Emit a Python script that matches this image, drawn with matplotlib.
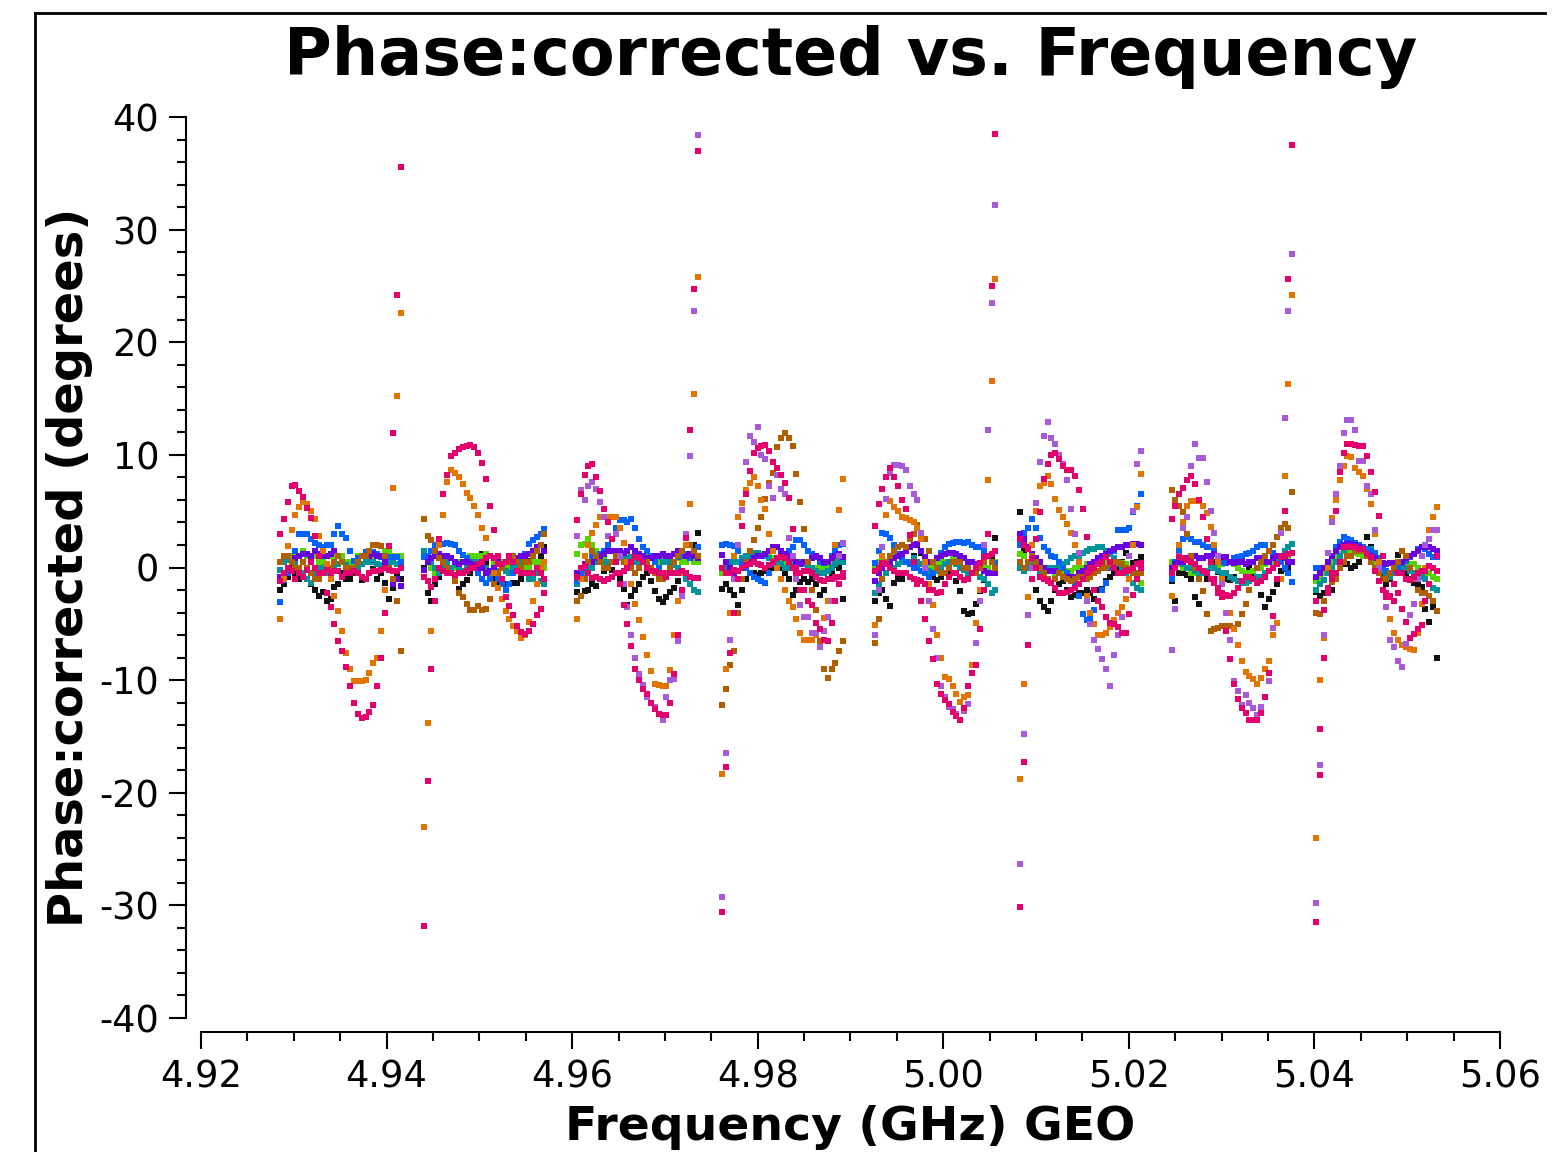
import numpy as np
import matplotlib
matplotlib.use('Agg')
import matplotlib.pyplot as plt
from matplotlib.lines import Line2D

plt.rcParams['axes.unicode_minus'] = False

# spectral windows: first channel frequency (GHz), 32 channels each
spw_start = [4.9285, 4.9440, 4.9605, 4.9762, 4.9926, 5.0083, 5.0246, 5.0402]
chan_width = 0.00042
n_chan = 32

# phase (deg) per window, one list per spw; [] = not plotted in that spw
black = [
    [-2, -1.5, -0.8, 0, -0.5, -1, -0.5, -1, -1.5, -2, -2.5, -2.2, -3.0, -2.8, -1.7, -1.5, -0.5, -1, -1, -0.5, 0, -1.1, 0.5, 0.5, -0.1, -1, -0.5, -1.4, -2.8, -1.8, -0.5, -1],
    [0, -2.3, -3.0, -1.5, -0.8, 0.2, 0.7, 0.0, -1.0, -1.9, -1.5, -1.1, -0.5, 0.2, 0.8, 1.2, 0.5, -0.3, -1.0, -1.4, -1.2, -1.5, -1.5, -1.4, -1.4, -1.0, 0.0, 0.6, 0.5, 0.2, 1.0, 1.8],
    [-2.2, -2.5, -2.1, -2.0, -1.5, -1.6, -1.0, -0.3, 0, -0.2, -0.5, -1.0, -1.9, -3.3, -2.5, -2.0, -1.5, -0.8, -0.5, -1.2, -2.1, -2.8, -3.1, -2.6, -2.2, -1.8, -1.2, -0.4, 0.5, 1.0, 2.0, 3.1],
    [-1.9, -1.5, -2.0, -2.4, -3.3, -2.0, -1.0, -0.5, -0.5, -0.7, -0.5, -0.3, -0.2, 0, 0.3, 0, -0.5, -1.0, -2.4, -2.0, -1.3, -1.0, -1.3, -1.0, -1.5, -2.4, -2.0, -1.0, -0.5, 0.2, 0, -2.8],
    [-3.0, -2.3, -2.0, -2.8, -3.4, -1.4, -1.0, -1.0, -0.5, 0.5, 1.0, 2.0, 1.3, 0.4, -0.3, -0.8, -1.1, -0.8, -0.5, -0.3, -0.5, -1.2, -2.1, -3.9, -4.1, -4.0, -3.2, -2.1, -1.1, -0.5, 1.0, 2.6],
    [4.9, 1.5, 0.3, -1.0, -2.0, -3.0, -3.5, -3.9, -3.0, -2.0, -1.5, -1.2, -2.0, -2.6, -2.4, -2.3, -2.3, -2.0, -2.3, -2.8, -2.0, -1.9, -1.2, -0.8, -0.5, 0, 0.5, 1.3, 1.0, 0.4, 0.5, 0.9],
    [-1.2, -3.0, -0.5, -0.5, -0.7, -1.0, -2.6, -3.2, -2.1, -1.0, 0, 0.5, -0.4, -0.8, -1.0, -1.1, -0.8, 0, 0.5, 0.3, 0, -0.5, -1.0, -2.4, -3.5, -2.8, -2.2, -1.5, -0.3, -0.1, 0, 0.5],
    [-2.2, -2.5, -2.3, -2.0, -2.0, -1.0, 0, 0.3, 0.3, 0, 0.1, 0.5, 1.5, 2.7, 1.8, 0.4, -0.5, -0.8, -1.5, -1.0, 0, 1.1, 0.5, -0.5, -1.0, -1.4, -1.5, -1.7, -3.7, -4.8, -3.5, -8.0],
]
blue = [
    [-3.1, -1.1, -0.5, 0.5, 1.5, 3.0, 3.0, 3.0, 2.5, 2.2, 2.0, 1.8, 2.0, 2.0, 3.0, 3.7, 3.0, 2.6, 1.5, 0.6, 0.8, 1.0, 1.4, 1.4, 1.4, 1.2, 0.9, 0.9, 0.9, 0.9, 0.9, 0.5],
    [0.9, 1.0, 1.5, 2.0, 2.0, 2.1, 2.2, 2.1, 2.0, 1.5, 1.1, 0.8, 0.5, 0.0, -0.5, -1.0, -1.4, -1.0, -0.5, -1.0, -1.5, -2.0, -1.5, -0.5, 0.5, 1.0, 1.2, 2.1, 2.4, 2.7, 3.0, 3.4],
    [-1.2, -0.5, 0, 0.5, 0.9, 1.0, 1.2, 1.5, 2.0, 2.5, 3.5, 4.2, 4.2, 4.0, 4.3, 3.5, 2.5, 1.8, 1.5, 1.0, 0.5, 0, -0.5, -0.8, -0.3, 0.5, 0.9, 1.0, 1.2, 0.8, 1.5, 1.8],
    [2.0, 2.1, 2.0, 1.9, 1.5, 0.5, 0, -0.5, -0.8, -1.0, -1.2, -1.4, -0.5, 0.3, 0.8, 1.0, 1.2, 1.5, 1.8, 2.4, 2.4, 2.0, 1.5, 1.2, 0.9, 0.5, 0.4, 0.5, 1.0, 1.5, 2.0, 2.1],
    [0.4, 1.5, 3.1, 3.0, 2.6, 2.0, 1.2, 0.9, 0.5, 0.3, 0, 0, -0.3, -0.5, -0.8, -0.5, 0, 1.3, 1.8, 2.1, 2.2, 2.3, 2.3, 2.2, 2.3, 2.0, 1.8, 1.8, 1.5, 1.0, 0.5, 0.4],
    [2.0, 3.1, 3.5, 4.3, 3.5, 2.6, 1.8, 1.5, 1.0, 0.9, 0.5, 0, -0.5, -1.0, -1.5, -2.5, -4.1, -4.7, -4.5, -3.8, -3.0, -2.0, -1.4, 0.0, 1.5, 3.3, 3.3, 3.3, 3.5, 4.9, 5.5, 6.5],
    [-1.0, 0.5, 1.5, 2.5, 2.7, 2.5, 2.3, 2.3, 2.0, 1.8, 1.8, 1.5, 1.0, 0.5, 0.4, 0.5, 0.8, 0.9, 1.0, 1.2, 1.3, 1.5, 1.8, 2.0, 2.0, 1.5, 1.3, 1.0, 0.5, 0, -0.5, -1.3],
    [0, 0, 0, 0.3, 1.0, 1.8, 2.3, 2.7, 2.5, 2.4, 2.2, 2.0, 1.8, 1.6, 1.5, 1.3, 0.8, 0, -0.3, -0.5, -0.3, 0, 0.4, 0.6, 0.9, 1.2, 1.6, 1.8, 1.6, 1.2, 0.9, 0.9],
]
teal = [
    [-0.2, 0.5, 0.7, 0.5, 0.3, 0, -0.5, -1.0, -1.4, -0.5, 0, 0, -0.5, -0.3, 0, 0.3, 0.5, 0.2, 0, -0.3, 0, 0.3, 0.5, 0.5, 0.5, 0.3, 0.2, 0.5, 0.5, 0.5, 0.3, 0.2],
    [1.5, 1.0, 0.5, 0, -0.5, 0, 0.5, 0, 0.2, 0, -0.3, 0, 0.5, 0.5, 0.5, 0.2, 0, -0.5, -0.5, -0.3, 0, -0.3, -0.5, 0, 0, 0.5, -0.5, -1.0, -1.0, -0.5, -1.2, -1.5],
    [-1.5, -1.0, -0.5, 0, 0, 0.5, 0.8, 0.5, 0.5, 0.5, 1.0, 0.9, 0.8, 0.8, 0.9, 0.5, 0.5, 0.5, 0.5, 0.8, 0.9, 0.9, 0.5, 0.5, 0.5, 0.2, 0, -0.5, -1.0, -1.5, -2.0, -2.2],
    [0, 0, 0.5, 0.5, 0.5, 0.8, 1.0, 1.0, 1.3, 1.3, 1.0, 1.0, 0.8, 0.5, 0.3, 0.3, 0, 0, 0.3, 0.5, 0.5, 0.3, 0, 0, -0.3, -0.5, -0.5, -0.3, 0, 0.3, 0.5, 0.5],
    [-2.3, -1.5, -1.0, -0.5, 0, 0, 0.3, 0.5, 0.5, 0.5, 0.8, 0.5, 0.3, 0, -0.3, -0.5, -0.3, 0, 0.3, 0.5, 0.5, 0.3, 0, -0.2, -0.5, -0.5, -0.5, -0.8, -1.0, -1.5, -2.3, -2.0],
    [0, -0.3, 0, 0.3, 0, -0.5, -0.3, 0, 0, 0, 0, 0.3, 0.5, 0.8, 1.0, 1.0, 1.3, 1.5, 1.6, 1.6, 1.8, 1.8, 1.5, 1.2, 0.8, 0.3, 0, -0.5, -1.0, -1.4, -1.8, -2.0],
    [0, 0.3, 0.5, 0.3, 0, 0, -0.3, -0.5, -0.5, -0.3, 0, 0, -0.3, -0.5, -0.5, -0.8, -1.0, -1.2, -1.4, -1.4, -1.2, -1.0, -0.8, -0.8, -0.5, -0.3, 0, 0.5, 1.0, 1.5, 1.8, 2.1],
    [-2.0, -1.5, -1.1, -0.5, 0, 0.5, 1.0, 1.5, 1.8, 1.8, 1.6, 1.5, 1.5, 1.6, 1.6, 1.0, 0.3, -0.3, -0.8, -0.8, -0.5, 0, 0, 0, -0.3, -0.5, -0.5, -0.8, -1.0, -1.5, -1.8, -2.0],
]
green = [
    [0.5, 1, 1, 1, 1, 1, 1.5, 1, 1, 1, 0.5, 0.5, 1, 1, 1, 1, 1, 0.5, 0.5, 0.5, 1, 1, 1, 1, 1, 1, 1, 1.5, 1.5, 1, 1, 1],
    [1.2, 0.5, 0, -0.5, 0, 0.5, 0.5, 0, 0, 0.5, 0.5, 0.5, 1.0, 1.0, 1.0, 1.0, 1.2, 1.0, 0.5, 0.5, 0.5, 0, 0, 0.5, 0.5, 0.5, 0, 0, 0.5, 0.5, 0.5, 0],
    [1.2, 2.0, 2.1, 2.5, 2.0, 1.5, 1.0, 1.0, 0.5, 0.5, 0.5, 0.8, 0.5, 0.5, 0.5, 0.5, 1.0, 1.0, 1.0, 0.8, 0.5, 0.5, 0.8, 0.5, 0.5, 0.5, 0.8, 0.5, 0.5, 0.8, 0.5, 0.5],
    [-0.5, 0, 0, 0.5, 0.5, 0.5, 1.0, 1.0, 1.0, 1.1, 1.2, 1.1, 1.0, 0.8, 0.5, 0.5, 0.5, 0.5, 0.5, 0.5, 0.5, 0.3, 0.3, 0, 0, 0, 0, 0, 0.5, 0.5, 0.5, 0.5],
    [0, 0.5, 0.5, 0.5, 1.0, 1.0, 1.0, 0.5, 0.5, 0.5, 0.5, 0.5, 0.3, 0.3, 0, 0, 0.3, 0.5, 0.5, 0.5, 0.8, 1.0, 1.0, 0.8, 0.5, 0.5, 0.3, 0.3, 0, 0, 0.5, 0.5],
    [1.2, 1.0, 0.5, 0.5, 0, 0, 0, 0, -0.3, -0.5, -0.5, -0.5, -0.3, -0.3, 0, 0, 0, 0.3, 0.3, 0.3, 0.5, 0.5, 0.5, 0.5, 0.5, 0.4, 0.4, 0.3, 0, -0.5, -1.0, -1.4],
    [0.5, 0.5, 0.3, 0, 0, -0.5, -0.5, -0.8, -0.5, -0.3, 0, 0, 0, 0.3, 0.5, 0.5, 0.3, 0, -0.3, -0.5, -0.5, -0.3, 0, 0, 0.3, 0.5, 0.5, 0.5, 0.8, 1.0, 1.0, 0.5],
    [-1.2, -1.0, -0.5, 0, 0.5, 1.0, 1.2, 1.5, 1.5, 1.5, 1.3, 1.2, 1.0, 1.0, 0.8, 0.5, 0, -0.3, -0.5, -0.5, -0.3, 0, 0.2, 0.3, 0.3, 0.3, 0, -0.3, -0.5, -0.5, -0.8, -1.0],
]
violet = [
    [-0.8, -0.5, 0, 0.5, 0.8, 1.0, 1.2, 1.2, 1.0, 1.5, 1.2, 1.0, 1.0, 1.2, 1.5, 1.0, 0.5, 0, -0.5, 0, 0.5, 1.0, 1.0, 1.0, 1.2, 1.0, 1.0, 0.5, 0, -1.5, -1.0, -1.6],
    [-0.2, 0.5, 0.8, 1.0, 1.2, 1.0, 1.0, 0.8, 0.5, 0.3, 0.5, 0.5, 0.3, 0.2, 0, 0, -0.5, -0.3, 0, 0.5, 0.3, 0.5, 0.5, 0.5, 0.8, 1.0, 1.0, 1.2, 1.5, 1.8, 2.0, 1.5],
    [-0.5, 0, 0.3, 0.5, 0.5, 0.8, 1.0, 1.2, 1.5, 1.5, 1.5, 1.5, 1.3, 1.5, 1.8, 1.5, 1.2, 1.0, 0.8, 0.8, 1.0, 1.0, 1.2, 1.0, 1.0, 1.2, 1.5, 1.5, 1.0, 1.2, 1.0, 0.8],
    [1.1, 0.5, 0, -0.5, -0.3, 0, 0.3, 0.5, 0.8, 1.0, 1.0, 1.2, 1.5, 1.8, 1.8, 1.5, 1.2, 1.0, 0.8, 0.5, 0.3, 0.5, 0.5, 0.8, 1.0, 0.8, 0.5, 0.5, 0.8, 1.0, 1.2, 0.9],
    [-1.2, -0.5, 0, 0.3, 0.5, 0.8, 1.0, 1.2, 1.5, 1.8, 2.0, 2.1, 1.5, 0.9, 0.5, 0.5, 0.8, 1.0, 1.2, 1.3, 1.3, 1.2, 1.0, 0.8, 0.5, 0.5, 0.3, 0, -0.3, -0.5, -0.5, -0.5],
    [3.0, 2.5, 1.8, 1.2, 0.8, 0.5, 0, -0.3, -0.3, -0.3, -0.5, -0.8, -0.8, -0.8, -0.8, -0.5, -0.3, 0, 0.3, 0.5, 0.8, 1.0, 1.2, 1.5, 1.6, 1.8, 1.8, 2.0, 2.0, 2.1, 2.1, 2.0],
    [0, 0.3, 0.5, 0.5, 0.8, 1.0, 1.0, 0.8, 0.8, 1.0, 1.0, 1.2, 1.0, 0.9, 0.9, 0.5, 0.4, 0.5, 0.5, 0.3, 0.5, 0.5, 0.8, 0.8, 0.5, 0.5, 0.8, 1.0, 1.0, 0.8, 0.5, 0.5],
    [-0.8, -0.5, 0, 0.5, 1.0, 1.5, 1.8, 2.0, 2.1, 2.1, 2.0, 1.8, 1.5, 1.2, 1.0, 0.8, 0.5, 0.4, 0.3, 0.4, 0.4, 0.5, 0.5, 0.8, 1.0, 1.2, 1.5, 1.8, 1.8, 1.8, 1.6, 1.5],
]
pink_band = [
    [-1.2, -0.5, 0, -0.3, -1, -0.5, -0.8, -0.2, 0.5, 0, -0.5, -0.5, -0.2, -0.5, -0.3, -0.3, -0.8, -0.5, -0.5, -0.3, -0.5, -0.8, -1.0, -0.5, -0.3, -0.3, -0.2, 0, -0.2, -0.3, -0.3, 0],
    [-0.8, -1.2, -1.7, -1.0, 0, -0.3, -0.5, -0.5, -0.7, -0.5, -0.5, -0.3, 0, 0, 0.3, 0.5, 0.8, 1.0, 0.8, 0.3, 0.3, 0.5, 1.0, 0.5, -0.3, -0.5, -0.5, -0.5, -0.5, 0, -0.5, -1.0],
    [-0.8, 0, 0.1, -0.5, -0.9, -0.8, -1.0, -1.2, -1.0, -0.8, -0.5, -0.5, -0.3, 0, 0.5, 0.9, 0.8, 0.5, 0, -0.3, -0.3, -0.5, -0.5, -0.8, -0.5, -0.5, -0.5, -0.3, -0.5, -0.8, -0.9, -0.9],
    [0, -0.5, -0.5, -0.2, -0.3, 0, 0.2, 0.3, 0.5, 0.3, 0.2, 0, 0.2, 0.5, 0.8, 0.9, 0.8, 0.5, 0, -0.5, -0.5, -0.3, -0.3, -0.5, -0.8, -1.1, -1.2, -1.0, -1.0, -0.8, -0.8, -0.8],
    [-0.3, 0, 0.4, 0.3, 0, -0.3, -0.5, -0.5, -0.5, -0.8, -1.0, -1.1, -1.2, -1.5, -2.0, -2.0, -2.3, -2.2, -1.5, -0.8, -0.5, -0.5, -0.8, -1.1, -1.0, -0.5, 0, 0.4, 0.9, 1.0, 1.2, 1.5],
    [2.5, 2.0, 1.6, 0.8, 0, -0.8, -1.0, -1.2, -1.4, -1.8, -2.3, -2.3, -2.2, -2.0, -1.8, -1.5, -1.0, -0.5, -0.3, 0, 0.3, 0.5, 0.9, 0.5, 0, -0.5, -0.5, -0.3, -0.2, 0, 0.3, 0.4],
    [-0.5, 0, 0.9, 0.8, 0.7, 0.5, 0.3, 0, -0.3, -0.5, -1.0, -1.4, -1.8, -2.3, -2.4, -2.5, -2.3, -1.8, -1.2, -0.8, -0.8, -1.0, -1.4, -1.2, -0.8, -0.3, 0, 0.3, 0.9, 1.0, 1.2, 1.3],
    [-3.0, -14.3, -3.8, -1.8, -1.0, -0.5, 0.5, 1.8, 1.8, 1.8, 1.8, 1.6, 1.6, 1.2, 0.9, -0.3, -1.2, -2.0, -2.6, -2.6, -1.5, -0.5, -0.5, -1.0, -1.1, -0.8, -0.5, -0.3, -0.3, 0.1, 0, -0.3],
]
brown = [
    [0.5, 1, 1, 0.5, 0, 0, 0.5, 0, -0.5, -1, -1, -0.5, 0, 0, 0.5, 1, 0.5, 0, 0, 0, 0.5, 1, 1, 1.5, 2, 2, 1.9, 1, 0, -1, -3, -7.4],
    [4.3, 2.8, 2.4, 1.5, 0.8, 0.5, 0.0, -0.5, -1.2, -2.3, -2.6, -3.2, -3.8, -3.8, -3.4, -3.8, -3.7, -2.8, -1.5, -0.5, 0.0, 0.5, 0.5, 1.0, 0.5, 0.0, 0.5, 0.5, 1.0, 1.5, 2.0, 3.0],
    [-3.0, -2.5, -1.0, 0.5, 1.5, 1.0, 0.5, 0, 0, 0.5, 1.0, 1.0, 0.5, 0.5, 0.0, -0.5, 0.0, 0.5, 0.5, 0, -0.5, -1.0, -1.0, -0.5, 0, 0.5, 1.0, 1.5, 2.0, 2.0, 1.5, 1.0],
    [-12.2, -10.8, -8.7, -7.4, -4.0, -1.0, 0.5, 1.5, 2.4, 3.5, 4.5, 6.1, 7.5, 8.4, 10.7, 11.5, 11.9, 11.5, 10.8, 8.3, 5.8, 3.4, 0.5, -2.0, -3.8, -6.5, -9.0, -9.8, -9.0, -8.5, -7.4, -6.5],
    [-6.7, -4.6, -1.0, 0.5, 1.0, 1.5, 1.8, 2.0, 1.8, 2.5, 3.0, 3.8, 3.0, 2.5, 1.5, 0.5, 0, -0.5, -0.5, 0, 0.5, 0.5, 0.5, 0, 0, -0.5, -0.5, 0, 0.5, 1.0, 0.5, 0],
    [0.5, 0, 0.5, 1.0, 0.5, 0, -0.5, -1.0, -1.4, -1.0, -0.5, -0.8, -1.0, -1.2, -1.0, -0.8, -0.8, -1.0, -0.8, -0.5, -0.3, 0, 0, 0.3, 0.5, 0.5, 0.3, 0, -0.3, -0.5, -0.5, -0.5],
    [6.9, 6.0, 5.5, 4.9, 3.0, 1.0, 0, -1.0, -2.1, -4.1, -5.6, -5.5, -5.4, -5.2, -5.2, -5.2, -5.4, -5.0, -4.1, -3.2, -2.0, -1.0, 0, 0.5, 1.0, 1.5, 2.0, 2.7, 3.5, 3.9, 3.5, 6.7],
    [-4.0, -4.1, -3.0, -2.0, -1.3, -1.0, 0, 0.5, 1.0, 1.0, 1.5, 1.5, 1.5, 1.0, 0.5, 0, -0.5, -1.0, -1.0, -0.5, 0, 0.5, 1.5, 1.0, 0, -1.0, -2.0, -2.3, -2.3, -2.5, -3.0, -3.9],
]
orange = [
    [-4.6, -1.0, 1.9, 3.3, 4.7, 5.4, 5.8, 5.6, 5.0, 4.3, 2.8, 1.5, 0.3, -1.0, -2.5, -3.9, -5.6, -7.6, -9.0, -10.1, -10.1, -10.1, -10.0, -9.4, -8.5, -8.0, -5.6, -2.0, 1.9, 7.1, 15.2, 22.6],
    [-23.0, -13.8, -5.6, -1.0, 2.0, 4.7, 7.6, 8.7, 8.4, 8.0, 7.4, 6.6, 6.2, 5.5, 4.7, 3.5, 2.6, 1.0, -0.5, -1.8, -2.8, -3.9, -4.6, -5.2, -5.6, -6.3, -6.0, -4.8, -3.0, -1.5, 0.0, 0.5],
    [-4.6, -1.0, 1.0, 2.0, 3.1, 3.8, 4.5, 4.5, 4.5, 4.5, 4.5, 3.5, 2.2, 0.5, -1.5, -3.2, -4.7, -6.2, -7.8, -9.2, -10.3, -10.4, -10.5, -10.5, -9.1, -6.0, -3.0, -0.5, 2.0, 5.6, 15.4, 25.8],
    [-18.3, -9.0, -4.0, 1.0, 4.5, 5.7, 6.9, 7.5, 8.0, 7.2, 6.0, 5.2, 3.0, 1.5, 0, -1.0, -2.0, -3.0, -3.5, -4.6, -5.8, -6.4, -6.4, -6.4, -6.0, -5.5, -4.5, -3.0, -1.0, 2.0, 5.1, 7.9],
    [-5.1, -2.0, 1.0, 4.7, 5.9, 5.4, 5.0, 4.5, 4.4, 4.2, 4.0, 3.5, 2.5, 0.5, -1.5, -3.3, -6.0, -8.0, -9.7, -9.9, -10.5, -11.2, -11.9, -11.5, -11.3, -8.7, -4.9, -2.0, 2.0, 7.8, 16.6, 25.6],
    [-18.8, -10.3, -2.6, 2.0, 5.0, 7.2, 7.5, 8.1, 7.4, 6.1, 5.1, 4.5, 3.9, 3.1, 2.0, 0.5, -1.0, -2.5, -4.0, -5.0, -6.0, -6.0, -5.8, -5.3, -4.7, -4.0, -3.5, -2.8, -1.0, 2.0, 5.4, 8.3],
    [-2.5, 0, 2.0, 4.0, 5.5, 5.9, 5.9, 5.9, 5.5, 4.8, 3.6, 2.0, 0.5, -1.0, -2.5, -4.0, -5.5, -6.9, -8.3, -9.3, -9.6, -9.9, -10.3, -9.8, -9.0, -8.3, -6.0, -4.9, -1.0, 8.1, 16.3, 24.2],
    [-24.0, -10.0, -6.3, 0, 4.4, 6.0, 7.8, 9.0, 9.9, 9.8, 8.8, 8.5, 8.1, 7.0, 5.6, 3.0, 0.5, -2.0, -3.5, -4.6, -5.8, -6.4, -6.9, -7.1, -7.2, -7.3, -5.8, -3.2, 0, 3.3, 4.5, 5.4],
]
lavender = [
    [],
    [],
    [2.8, 6.9, 6.0, 7.2, 7.6, 7.0, 5.8, 4.5, 2.8, 2.5, 3.0, 1.0, -1.5, -3.5, -6.0, -8.0, -9.5, -10.4, -11.5, -12.0, -12.4, -13.0, -13.5, -11.5, -10.0, -9.9, -6.5, -2.5, 3.0, 9.9, 22.8, 38.4],
    [-29.3, -16.5, -6.4, -1.0, 2.0, 5.1, 9.4, 11.7, 11.1, 12.5, 10.0, 9.6, 7.2, 6.2, 8.2, 7.0, 6.5, 2.6, 1.0, -1.0, -3.3, -4.4, -4.4, -5.8, -5.8, -7.1, -5.6, -4.4, -3.0, -1.0, 1.0, 2.2],
    [-6.0, -2.0, 1.8, 6.1, 8.4, 9.1, 9.1, 9.0, 8.7, 7.2, 6.5, 6.0, 3.1, 0, -3.0, -5.5, -8.0, -10.5, -11.5, -12.4, -12.6, -13.0, -13.5, -12.7, -12.1, -9.4, -6.7, -3.0, 2.0, 12.2, 23.5, 32.2],
    [-26.3, -14.8, -4.2, 0, 5.7, 9.4, 11.7, 12.9, 11.5, 11.0, 10.0, 9.2, 7.8, 5.2, 3.0, 1.3, -1.0, -3.0, -5.0, -6.4, -7.2, -8.1, -9.0, -10.5, -7.8, -6.0, -4.4, -2.0, 1.0, 5.0, 9.2, 10.3],
    [-7.3, -3.7, 1.0, 3.5, 4.5, 9.0, 11.0, 9.7, 9.7, 7.6, 5.0, 3.1, 1.0, -1.5, -4.0, -6.4, -10.1, -11.0, -12.2, -11.3, -12.0, -12.5, -13.1, -12.4, -11.5, -10.1, -5.4, -1.0, 3.1, 13.3, 22.8, 27.8],
    [-29.8, -17.5, -6.0, 1.3, 4.0, 6.5, 9.0, 11.9, 13.1, 13.1, 12.2, 9.5, 9.5, 7.2, 6.5, 3.3, 0, -2.0, -3.5, -6.4, -7.1, -8.3, -8.8, -6.8, -4.2, -3.2, -1.0, 1.0, 2.0, 2.5, 3.3, 3.3],
]
crimson = [
    [3.0, 4.3, 5.8, 7.2, 7.3, 6.8, 6.3, 5.3, 4.4, 2.8, 1.0, -0.5, -2.3, -3.5, -5.0, -6.5, -7.4, -8.8, -10.5, -12.0, -13.0, -13.4, -13.3, -12.8, -12.2, -10.5, -8.0, -4.0, 1.9, 11.9, 24.2, 35.6],
    [-31.8, -19.0, -9.0, -3.0, 2.5, 6.5, 8.2, 9.9, 10.2, 10.5, 10.7, 10.8, 10.9, 10.7, 10.2, 9.3, 7.9, 5.5, 3.3, 1.0, -1.0, -2.6, -3.4, -4.2, -5.2, -5.7, -5.9, -5.6, -5.0, -4.2, -3.7, -2.3],
    [4.2, 6.5, 8.2, 9.0, 9.2, 8.0, 6.8, 5.2, 4.0, 2.5, 0.5, -1.5, -3.3, -5.0, -7.0, -9.0, -10.0, -10.8, -11.2, -12.0, -12.6, -13.0, -13.1, -13.1, -12.0, -9.5, -6.0, -2.0, 2.6, 12.2, 24.7, 37.0],
    [-30.6, -17.7, -7.6, -4.0, -1.0, 3.7, 6.5, 8.6, 10.2, 10.6, 10.8, 10.9, 10.3, 9.4, 8.8, 8.2, 7.5, 6.2, 3.4, 0, -2.0, -2.0, -3.0, -3.3, -4.9, -5.5, -6.4, -6.5, -4.9, -3.0, -1.5, -0.5],
    [3.7, 5.6, 7.0, 8.0, 8.8, 8.0, 7.2, 6.0, 5.2, 2.9, 0.5, -1.5, -3.0, -4.6, -6.5, -8.1, -10.3, -11.2, -11.8, -12.1, -12.8, -13.2, -13.5, -12.5, -10.5, -9.4, -8.7, -5.5, -2.0, 3.0, 25.0, 38.5],
    [-30.1, -17.3, -6.9, -1.0, 2.5, 4.9, 7.9, 9.2, 10.0, 10.2, 9.6, 9.0, 8.7, 8.7, 8.1, 6.9, 5.2, 2.7, 0, -2.0, -3.0, -3.5, -4.4, -4.9, -5.0, -5.3, -5.8, -5.8, -4.1, -2.4, -1.0, 0],
    [4.3, 5.5, 6.5, 7.1, 7.8, 8.1, 7.4, 6.0, 4.5, 2.5, 0.5, -1.0, -2.3, -2.6, -5.6, -8.1, -10.3, -11.7, -12.5, -12.9, -13.5, -13.5, -13.5, -12.9, -11.5, -9.4, -4.3, -1.0, 1.0, 5.0, 25.6, 37.5],
    [-31.5, -18.4, -8.0, -2.3, -0.5, 5.0, 8.5, 10.2, 11.0, 11.0, 10.9, 10.8, 10.8, 9.9, 8.5, 6.7, 4.6, 1.0, -2.3, -2.5, -3.0, -2.3, -3.7, -4.8, -6.3, -5.9, -5.5, -5.1, -3.0, -1.5, 0, 1.0],
]

series = [
    (black, '#111111'),
    (green, '#55d400'),
    (teal, '#00939c'),
    (blue, '#0062ff'),
    (violet, '#6a00e0'),
    (brown, '#b05f00'),
    (orange, '#e37400'),
    (lavender, '#a85ad8'),
    (pink_band, '#e4006c'),
    (crimson, '#e4006c'),
]

fig = plt.figure(figsize=(15.57, 11.52), dpi=100)
ax = fig.add_axes([201/1557, 1 - 1018/1152, 1299/1557, 901/1152])

for data, col in series:
    for k in range(len(spw_start)):
        vals = data[k]
        if len(vals) == 0:
            continue
        freq = spw_start[k] + chan_width*np.arange(n_chan)
        ax.plot(freq, vals, 's', color=col, markersize=5, markeredgewidth=0)

ax.set_xlim(4.92, 5.06)
ax.set_ylim(-40, 40)
ax.set_xticks(np.arange(4.92, 5.0601, 0.02))
ax.set_xticks(np.arange(4.92, 5.0601, 0.005), minor=True)
ax.set_xticklabels(['%.2f' % v for v in np.arange(4.92, 5.0601, 0.02)])
ax.set_yticks(np.arange(-40, 41, 10))
ax.set_yticks(np.arange(-40, 41, 2), minor=True)

for s in ['top', 'right']:
    ax.spines[s].set_visible(False)
ax.spines['left'].set_position(('outward', 11))
ax.spines['bottom'].set_position(('outward', 10))
ax.spines['left'].set_linewidth(1.5)
ax.spines['bottom'].set_linewidth(1.5)
ax.tick_params(which='major', direction='out', length=12, width=1.5, labelsize=26.5, pad=7)
ax.tick_params(which='minor', direction='out', length=6.5, width=1.5)

ax.set_title('Phase:corrected vs. Frequency', fontsize=47, fontweight='bold', pad=30)
ax.set_xlabel('Frequency (GHz) GEO', fontsize=34, fontweight='bold', labelpad=7)
ax.set_ylabel('Phase:corrected (degrees)', fontsize=34.5, fontweight='bold', labelpad=5)

# outer frame lines (top and left only)
fig.add_artist(Line2D([35/1557, 1545/1557], [1 - 13/1152, 1 - 13/1152], color='black', lw=2))
fig.add_artist(Line2D([35/1557, 35/1557], [1 - 13/1152, 0], color='black', lw=2))

fig.savefig('out.png', dpi=100)
